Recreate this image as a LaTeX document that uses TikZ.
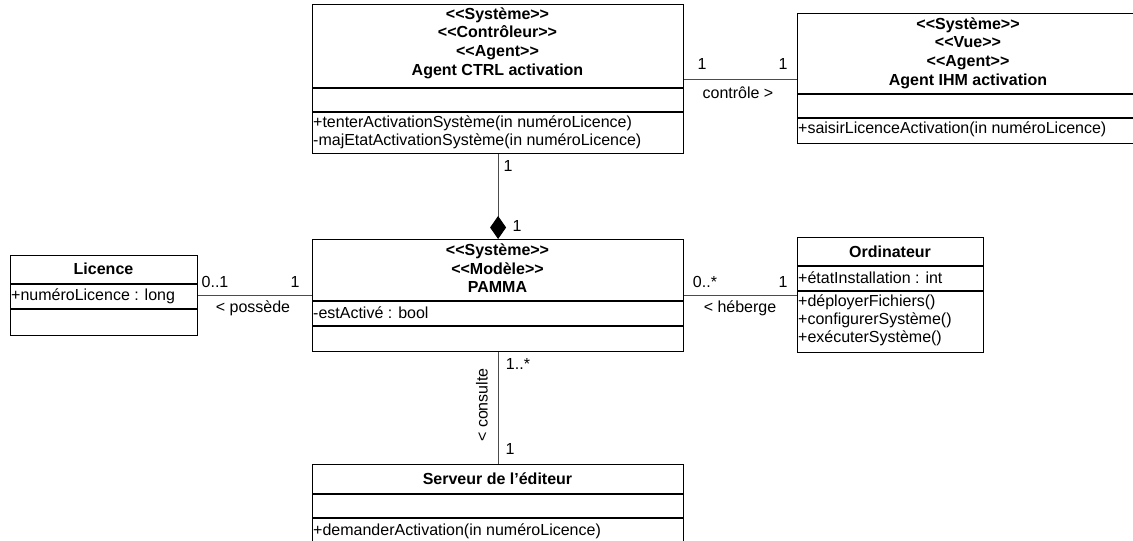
\documentclass[tikz,border=0pt]{standalone}
\usepackage{fontspec}
\setmainfont{Liberation Sans}[Ligatures=TeXOff]
\usetikzlibrary{arrows.meta,calc}
\tikzset{
  classbox/.style={draw=black, line width=1.2pt, inner sep=0pt, anchor=north west},
  sepline/.style={draw=black, line width=1.2pt},
  conn/.style={draw=black!70, line width=1pt},
  lbl/.style={inner sep=0pt, font=\fontsize{16}{18}\selectfont},
  ttl/.style={inner sep=0pt, align=center, font=\bfseries\fontsize{16}{18.6}\selectfont},
  mem/.style={inner sep=0pt, anchor=west, align=left, font=\fontsize{16}{18}\selectfont},
}
\begin{document}
\begin{tikzpicture}[x=1pt,y=-1pt]
\useasboundingbox (0,0) rectangle (1133,541);
\clip (0,0) rectangle (1133,541);
% ---- Agent CTRL activation
\node[classbox, minimum width=371pt, minimum height=149pt] (ctrl) at (312,4) {};
\draw[sepline] (312,88) -- (683,88);
\draw[sepline] (312,112) -- (683,112);
\node[ttl] (ctrlT) at (497.5,43) {<<Système>>\\<<Contrôleur>>\\<<Agent>>\\Agent CTRL activation};
\node[mem] (ctrlO) at (313,132) {+tenterActivationSystème(in numéroLicence)\\-majEtatActivationSystème(in numéroLicence)};
% ---- Agent IHM activation
\node[classbox, minimum width=342pt, minimum height=130pt] (ihm) at (797,13) {};
\draw[sepline] (797,94) -- (1140,94);
\draw[sepline] (797,118) -- (1140,118);
\node[ttl] (ihmT) at (968,53) {<<Système>>\\<<Vue>>\\<<Agent>>\\Agent IHM activation};
\node[mem] (ihmO) at (798,129) {+saisirLicenceActivation(in numéroLicence)};
% ---- PAMMA
\node[classbox, minimum width=371pt, minimum height=112pt] (pamma) at (312,239) {};
\draw[sepline] (312,301) -- (683,301);
\draw[sepline] (312,326) -- (683,326);
\node[ttl] (pammaT) at (497.5,268.5) {<<Système>>\\<<Modèle>>\\PAMMA};
\node[mem] (pammaA) at (313,313) {-estActivé : bool};
% ---- Licence
\node[classbox, minimum width=187pt, minimum height=80pt] (lic) at (10,255) {};
\draw[sepline] (10,284) -- (197,284);
\draw[sepline] (10,309) -- (197,309);
\node[ttl] (licT) at (103.5,269) {Licence};
\node[mem] (licA) at (11,296) {+numéroLicence : long};
% ---- Ordinateur
\node[classbox, minimum width=186pt, minimum height=115pt] (ord) at (797,237) {};
\draw[sepline] (797,266) -- (983,266);
\draw[sepline] (797,291) -- (983,291);
\node[ttl] (ordT) at (890,252) {Ordinateur};
\node[mem] (ordA) at (798,278) {+étatInstallation : int};
\node[mem] (ordO) at (798,320.5) {+déployerFichiers()\\+configurerSystème()\\+exécuterSystème()};
% ---- Serveur de l'editeur
\node[classbox, minimum width=371pt, minimum height=90pt] (serv) at (312,464) {};
\draw[sepline] (312,494) -- (683,494);
\draw[sepline] (312,518) -- (683,518);
\node[ttl] (servT) at (497.5,479) {Serveur de l’éditeur};
\node[mem] (servO) at (313,531) {+demanderActivation(in numéroLicence)};
% ---- connectors
\coordinate (yctl) at (700,79);
\coordinate (yrow) at (700,295);
\draw[conn] (ctrl.east |- yctl) -- (ihm.west |- yctl);
\draw[conn, -{Diamond[length=23pt,width=16pt,color=black,fill=black]}] (ctrl.south) -- (pamma.north);
\draw[conn] (lic.east |- yrow) -- (pamma.west |- yrow);
\draw[conn] (pamma.east |- yrow) -- (ord.west |- yrow);
\draw[conn] (pamma.south) -- (serv.north);
% ---- connector labels
\node[lbl] (m1) at (702,64) {1};
\node[lbl] (m2) at (783,64) {1};
\node[lbl] (a1) at (738,93) {contrôle >};
\node[lbl] (m3) at (508,166) {1};
\node[lbl] (m4) at (517,226) {1};
\node[lbl] (m5) at (215,282) {0..1};
\node[lbl] (m6) at (295,282) {1};
\node[lbl] (a2) at (253,308) {< possède};
\node[lbl] (m7) at (705,282) {0..*};
\node[lbl] (m8) at (783,282) {1};
\node[lbl] (a3) at (740,308) {< héberge};
\node[lbl] (m9) at (518,364) {1..*};
\node[lbl] (m10) at (510,449) {1};
\node[lbl, rotate=90] (a4) at (482,405) {< consulte};
\end{tikzpicture}
\end{document}
